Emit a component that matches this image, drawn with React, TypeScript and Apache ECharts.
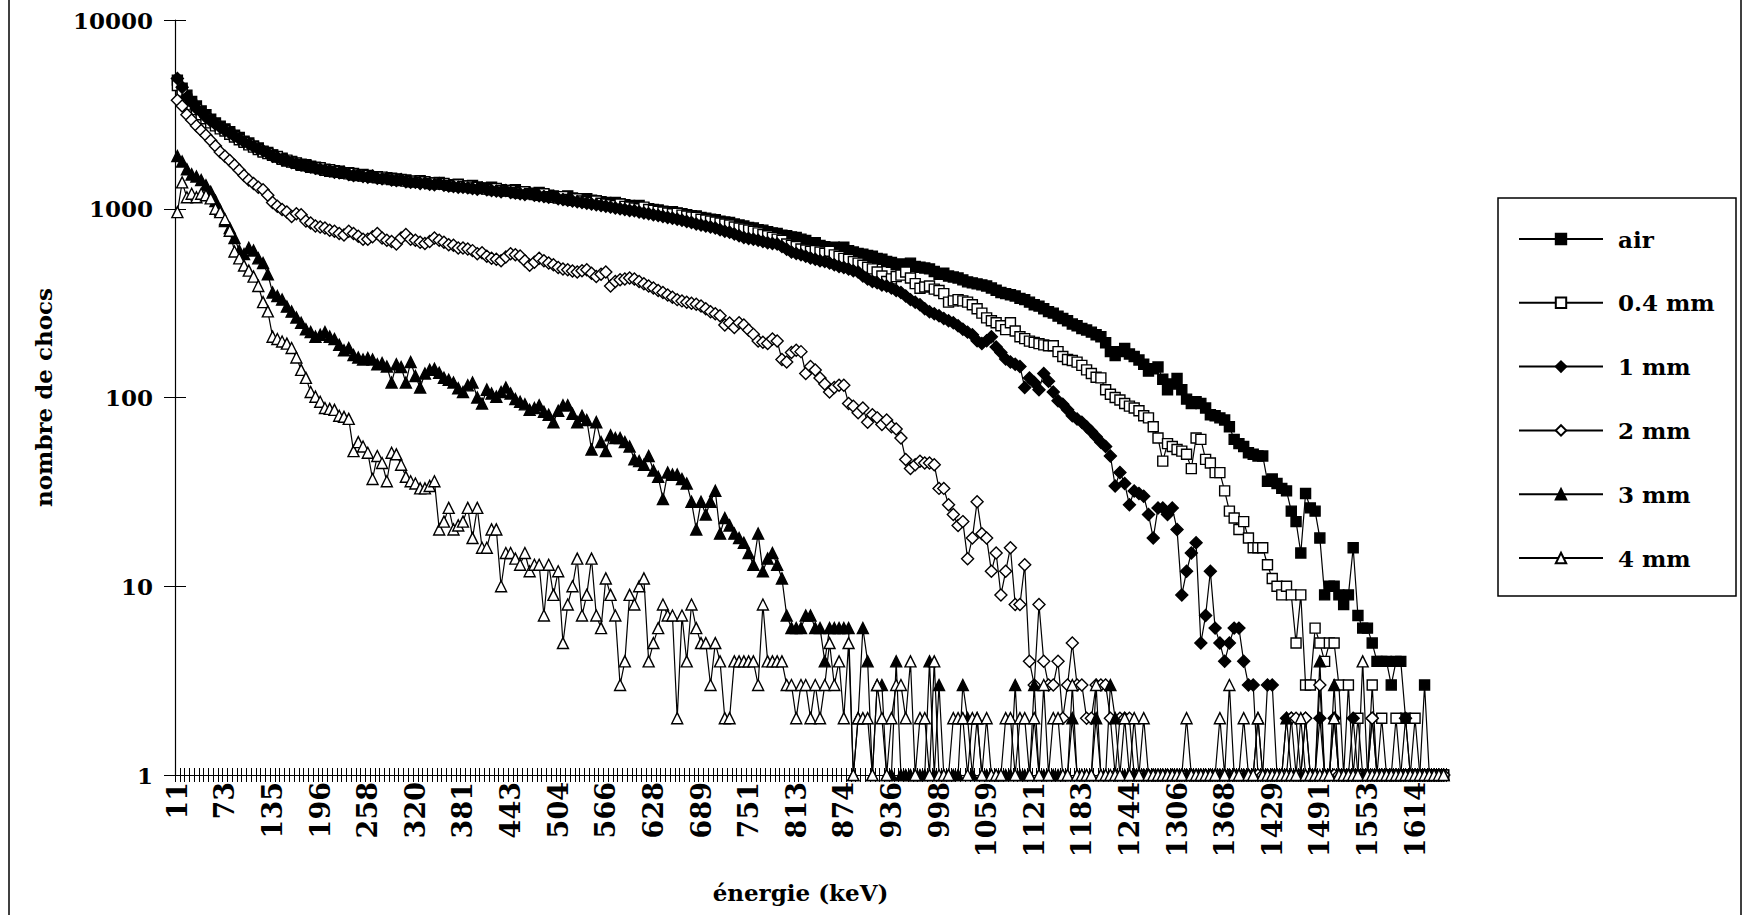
import React, { useEffect, useRef } from "react";
import * as echarts from "echarts";

// Energy calibration of the 267 channels (keV)
const ENERGY_START = 11.27;
const ENERGY_STEP = 6.165;
const N_CHANNELS = 267;
const CATEGORIES: string[] = Array.from({ length: N_CHANNELS }, (_, i) =>
  String(Math.round(ENERGY_START + ENERGY_STEP * i))
);

const AIR = [
  4800, 4350, 4000, 3700, 3500, 3300, 3150, 2980, 2850, 2740,
  2650, 2560, 2450, 2390, 2280, 2230, 2150, 2100, 2020, 1990,
  1930, 1880, 1850, 1790, 1780, 1740, 1700, 1710, 1660, 1650,
  1630, 1620, 1580, 1590, 1560, 1540, 1550, 1510, 1500, 1520,
  1490, 1470, 1480, 1450, 1460, 1430, 1440, 1410, 1420, 1400,
  1390, 1410, 1380, 1370, 1360, 1380, 1350, 1340, 1330, 1350,
  1320, 1310, 1330, 1300, 1290, 1280, 1300, 1270, 1260, 1250,
  1240, 1260, 1230, 1220, 1210, 1200, 1220, 1190, 1180, 1170,
  1160, 1150, 1170, 1140, 1130, 1120, 1130, 1110, 1100, 1090,
  1080, 1070, 1080, 1060, 1050, 1040, 1030, 1040, 1010, 1000,
  990, 985, 970, 960, 965, 950, 940, 930, 920, 915,
  900, 890, 880, 875, 860, 850, 845, 830, 820, 810,
  795, 790, 775, 770, 755, 745, 740, 725, 720, 710,
  705, 690, 680, 650, 660, 640, 630, 615, 625, 610,
  625, 600, 590, 580, 575, 565, 560, 545, 540, 525,
  520, 505, 510, 500, 515, 495, 490, 485, 480, 465,
  450, 455, 440, 435, 430, 420, 410, 405, 400, 395,
  390, 380, 370, 360, 355, 350, 345, 335, 330, 320,
  310, 305, 295, 285, 280, 270, 262, 255, 245, 240,
  232, 228, 222, 215, 210, 195, 175, 167, 175, 182,
  170, 165, 158, 150, 138, 142, 145, 125, 110, 118,
  126, 110, 98, 93, 95, 93, 88, 81, 80, 78,
  76, 70, 60, 57, 55, 51, 50, 49, 49, 36,
  37, 35, 33, 32, 25, 22, 15, 31, 26, 25,
  18, 9, 10, 10, 9, 8, 9, 16, 7, 6,
  6, 5, 4, 4, 4, 3, 4, 4, 2, 1,
  1, 1, 3, 1, 1, 1, 1,
];

const MM_04 = [
  4500, 4200, 3800, 3550, 3350, 3150, 3000, 2850, 2750, 2650,
  2580, 2480, 2400, 2320, 2250, 2180, 2120, 2060, 2000, 1960,
  1920, 1890, 1830, 1810, 1770, 1750, 1720, 1690, 1680, 1660,
  1650, 1600, 1610, 1570, 1580, 1550, 1530, 1540, 1510, 1490,
  1500, 1480, 1460, 1470, 1440, 1450, 1420, 1430, 1400, 1390,
  1400, 1380, 1390, 1360, 1370, 1350, 1360, 1330, 1320, 1340,
  1310, 1320, 1290, 1300, 1280, 1270, 1260, 1280, 1250, 1240,
  1250, 1220, 1210, 1230, 1200, 1190, 1180, 1200, 1160, 1150,
  1140, 1160, 1120, 1110, 1130, 1100, 1090, 1080, 1100, 1070,
  1060, 1050, 1040, 1060, 1030, 1020, 1010, 1000, 1020, 990,
  980, 970, 960, 950, 940, 945, 925, 915, 905, 900,
  880, 870, 860, 850, 840, 830, 820, 800, 790, 780,
  770, 760, 745, 730, 720, 705, 690, 680, 650, 640,
  630, 612, 605, 595, 600, 590, 580, 595, 570, 560,
  546, 540, 525, 515, 502, 490, 480, 462, 440, 412,
  425, 437, 445, 462, 430, 401, 379, 385, 390, 375,
  369, 355, 320, 325, 330, 325, 320, 310, 295, 280,
  264, 255, 249, 240, 229, 249, 225, 210, 205, 199,
  196, 193, 190, 188, 188, 175, 165, 159, 157, 154,
  148, 140, 134, 128, 127, 110, 104, 100, 97, 93,
  90, 88, 85, 80, 78, 70, 61, 46, 57, 55,
  53, 52, 50, 42, 61, 60, 47, 45, 40, 40,
  32, 25, 23, 20, 22, 18, 16, 16, 16, 13,
  11, 10, 9, 10, 9, 5, 9, 3, 3, 6,
  5, 4, 5, 5, 3, 1, 3, 1, 2, 1,
  1, 3, 1, 2, 1, 1, 2, 1, 1, 1,
  2, 1, 1, 1, 1, 1, 1,
];

const MM_1 = [
  4900, 4400, 3900, 3650, 3400, 3250, 3050, 2920, 2800, 2700,
  2600, 2520, 2420, 2350, 2260, 2200, 2130, 2070, 2030, 1960,
  1900, 1870, 1820, 1800, 1760, 1730, 1710, 1680, 1670, 1640,
  1620, 1600, 1590, 1560, 1550, 1560, 1520, 1500, 1510, 1480,
  1470, 1490, 1450, 1440, 1450, 1420, 1410, 1430, 1390, 1380,
  1380, 1360, 1370, 1350, 1340, 1360, 1330, 1320, 1310, 1300,
  1300, 1290, 1280, 1270, 1290, 1260, 1250, 1240, 1230, 1250,
  1220, 1210, 1200, 1190, 1210, 1180, 1170, 1160, 1150, 1160,
  1130, 1120, 1110, 1100, 1090, 1080, 1070, 1060, 1050, 1040,
  1030, 1020, 1010, 1000, 990, 980, 975, 960, 950, 940,
  930, 920, 910, 900, 890, 880, 870, 855, 845, 830,
  820, 810, 800, 790, 775, 760, 750, 735, 720, 705,
  695, 690, 680, 670, 660, 655, 650, 630, 610, 590,
  580, 570, 560, 548, 540, 530, 525, 516, 505, 495,
  488, 480, 470, 462, 440, 425, 412, 405, 395, 390,
  380, 369, 360, 345, 330, 320, 310, 295, 285, 278,
  271, 262, 255, 249, 240, 230, 222, 215, 200, 193,
  200, 210, 185, 173, 160, 154, 150, 146, 113, 127,
  120, 110, 134, 122, 107, 96, 92, 86, 80, 77,
  74, 70, 66, 62, 58, 55, 49, 34, 40, 35,
  27, 32, 31, 30, 24, 18, 26, 26, 24, 26,
  20, 9, 12, 15, 17, 5, 7, 12, 6, 5,
  4, 5, 6, 6, 4, 3, 3, 1, 1, 3,
  3, 1, 1, 2, 2, 1, 1, 2, 1, 1,
  2, 1, 1, 2, 1, 1, 1, 2, 1, 1,
  1, 2, 1, 1, 1, 1, 1, 1, 2, 1,
  1, 1, 1, 1, 1, 1, 1,
];

const MM_2 = [
  3760, 3500, 3150, 2950, 2750, 2600, 2450, 2300, 2150, 2000,
  1900, 1800, 1700, 1600, 1500, 1420, 1360, 1300, 1260, 1180,
  1080, 1030, 990, 960, 910, 940, 930, 860, 840, 810,
  800, 790, 770, 760, 740, 725, 760, 740, 715, 690,
  690, 710, 740, 700, 680, 670, 650, 700, 730, 690,
  680, 665, 655, 670, 700, 680, 665, 645, 640, 620,
  620, 612, 600, 578, 585, 560, 546, 540, 531, 555,
  578, 570, 562, 530, 502, 520, 546, 530, 516, 505,
  488, 480, 475, 468, 462, 470, 475, 455, 437, 450,
  462, 390, 412, 420, 424, 430, 424, 412, 400, 390,
  380, 369, 360, 349, 340, 330, 325, 320, 316, 312,
  305, 295, 285, 278, 271, 242, 248, 235, 249, 242,
  228, 216, 199, 196, 193, 204, 199, 159, 154, 173,
  178, 175, 134, 146, 140, 127, 118, 107, 113, 116,
  116, 93, 90, 83, 88, 74, 81, 78, 72, 76,
  70, 68, 61, 47, 42, 44, 46, 45, 45, 44,
  33, 33, 27, 24, 21, 22, 14, 18, 28, 19,
  18, 12, 15, 9, 12, 16, 8, 8, 13, 4,
  3, 8, 4, 3, 3, 4, 2, 3, 5, 3,
  3, 2, 2, 3, 3, 3, 2, 1, 2, 2,
  2, 1, 1, 1, 1, 1, 1, 1, 1, 1,
  1, 1, 1, 1, 1, 1, 1, 1, 1, 1,
  1, 1, 1, 1, 1, 1, 1, 1, 1, 1,
  1, 1, 1, 1, 2, 2, 1, 2, 1, 1,
  3, 1, 1, 1, 1, 1, 1, 1, 1, 1,
  1, 2, 1, 1, 1, 1, 1, 1, 1, 1,
  1, 1, 1, 1, 1, 1, 1,
];

const MM_3 = [
  1900, 1780, 1620, 1520, 1480, 1420, 1330, 1230, 1100, 980,
  860, 790, 700, 600, 575, 620, 600, 546, 516, 449,
  360, 345, 330, 303, 285, 265, 249, 230, 222, 210,
  215, 222, 210, 204, 190, 178, 183, 168, 163, 159,
  162, 159, 150, 152, 146, 120, 150, 145, 120, 154,
  130, 113, 134, 140, 142, 135, 127, 124, 120, 112,
  107, 116, 120, 100, 93, 110, 105, 101, 107, 113,
  105, 98, 95, 92, 86, 88, 91, 84, 81, 74,
  85, 91, 91, 82, 74, 80, 76, 53, 74, 58,
  52, 63, 61, 61, 58, 55, 47, 46, 44, 49,
  41, 38, 29, 40, 39, 39, 37, 35, 28, 20,
  28, 24, 28, 32, 19, 23, 21, 19, 18, 17,
  15, 13, 19, 12, 14, 15, 13, 11, 7, 6,
  6, 6, 7, 7, 6, 6, 4, 6, 6, 6,
  6, 6, 1, 2, 6, 4, 1, 3, 3, 1,
  1, 4, 1, 1, 1, 1, 1, 1, 4, 1,
  3, 1, 1, 1, 1, 3, 2, 1, 2, 1,
  1, 1, 1, 1, 1, 1, 3, 1, 1, 1,
  3, 1, 1, 1, 1, 1, 1, 1, 2, 1,
  1, 1, 1, 2, 1, 1, 3, 2, 1, 1,
  1, 1, 1, 1, 1, 1, 1, 1, 1, 1,
  1, 1, 1, 1, 1, 1, 1, 1, 1, 1,
  1, 1, 1, 1, 1, 1, 1, 2, 1, 1,
  1, 1, 1, 2, 1, 1, 1, 1, 1, 1,
  4, 1, 1, 3, 1, 1, 1, 1, 1, 1,
  1, 1, 1, 1, 1, 1, 1, 1, 1, 1,
  1, 1, 1, 1, 1, 1, 1,
];

const MM_4 = [
  960, 1380, 1150, 1200, 1150, 1200, 1180, 1135, 1000, 960,
  880, 765, 594, 546, 500, 470, 437, 390, 320, 286,
  210, 204, 198, 193, 183, 163, 140, 127, 107, 101,
  95, 88, 87, 86, 80, 79, 77, 52, 58, 55,
  51, 37, 49, 45, 36, 51, 50, 44, 38, 36,
  35, 33, 33, 34, 36, 20, 22, 26, 20, 21,
  22, 26, 18, 26, 16, 16, 20, 20, 10, 15,
  15, 14, 13, 15, 12, 13, 13, 7, 13, 9,
  12, 5, 8, 10, 14, 7, 9, 14, 7, 6,
  11, 9, 7, 3, 4, 9, 8, 10, 11, 4,
  5, 6, 8, 7, 7, 2, 7, 4, 8, 6,
  5, 5, 3, 5, 4, 2, 2, 4, 4, 4,
  4, 4, 3, 8, 4, 4, 4, 4, 3, 3,
  2, 3, 3, 2, 3, 2, 3, 5, 3, 4,
  2, 5, 1, 2, 2, 2, 1, 3, 2, 1,
  2, 3, 3, 2, 4, 1, 2, 2, 1, 4,
  1, 1, 1, 2, 2, 2, 1, 2, 2, 1,
  2, 1, 1, 1, 2, 2, 1, 2, 2, 1,
  2, 1, 3, 1, 2, 2, 1, 1, 3, 1,
  1, 1, 1, 3, 1, 1, 1, 1, 1, 2,
  1, 2, 1, 2, 1, 1, 1, 1, 1, 1,
  1, 1, 2, 1, 1, 1, 1, 1, 1, 2,
  1, 3, 1, 1, 2, 1, 1, 2, 1, 1,
  1, 1, 1, 1, 1, 1, 2, 1, 1, 1,
  1, 1, 1, 2, 1, 1, 1, 1, 1, 4,
  1, 1, 1, 1, 1, 1, 1, 1, 1, 1,
  1, 1, 1, 1, 1, 1, 1,
];

const SERIES_NAMES = ["air", "0.4 mm", "1 mm", "2 mm", "3 mm", "4 mm"];
const Y_TICKS = [1, 10, 100, 1000, 10000];

const FONT = "DejaVu Serif";

export default function App() {
  const ref = useRef<HTMLDivElement>(null);

  useEffect(() => {
    if (!ref.current) return;
    const chart = echarts.init(ref.current, undefined, { renderer: "svg" });

    const bold = { fontFamily: FONT, fontWeight: "bold" as const, color: "#000" };
    const xTickText = { ...bold, fontSize: 27 };
    const yTickText = { ...bold, fontSize: 23 };
    const titleText = { ...bold, fontSize: 23 };

    const mk = (name: string, data: number[], symbol: string, size: number, filled: boolean) => ({
      name,
      type: "line",
      data,
      xAxisIndex: 0,
      yAxisIndex: 0,
      symbol,
      symbolSize: size,
      showAllSymbol: true,
      lineStyle: { color: "#000", width: 1.2 },
      itemStyle: { color: filled ? "#000" : "#fff", borderColor: "#000", borderWidth: 1.4 },
      emphasis: { disabled: true },
      silent: true,
    });

    chart.setOption({
      animation: false,
      backgroundColor: "#fff",
      grid: { left: 175, top: 20, width: 1271, height: 755, containLabel: false },
      legend: {
        orient: "vertical",
        left: 1518,
        top: 227,
        padding: 0,
        itemWidth: 84,
        itemHeight: 13,
        itemGap: 39.8,
        selectedMode: false,
        data: SERIES_NAMES,
        textStyle: { ...titleText, lineHeight: 24, padding: [0, 0, 0, 10] },
      },
      xAxis: [
        {
          type: "category",
          data: CATEGORIES,
          boundaryGap: true,
          gridIndex: 0,
          axisLine: { show: true, lineStyle: { color: "#000", width: 1.2 } },
          axisTick: { show: true, interval: 0, length: 7, lineStyle: { color: "#000", width: 1 } },
          axisLabel: { ...xTickText, interval: 9, rotate: 90, margin: 7 },
          splitLine: { show: false },
          name: "énergie (keV)",
          nameLocation: "middle",
          nameGap: 106,
          nameTextStyle: { ...titleText, padding: [0, 20, 0, 0] },
        },
        {
          type: "category",
          data: CATEGORIES,
          boundaryGap: true,
          gridIndex: 0,
          position: "bottom",
          axisLine: { show: false },
          axisTick: { show: true, inside: true, interval: 0, length: 7, lineStyle: { color: "#000", width: 1 } },
          axisLabel: { show: false },
          splitLine: { show: false },
        },
      ],
      yAxis: [
        {
          type: "log",
          logBase: 10,
          min: Y_TICKS[0],
          max: Y_TICKS[Y_TICKS.length - 1],
          gridIndex: 0,
          axisLine: { show: true, lineStyle: { color: "#000", width: 1.2 } },
          axisTick: { show: true, length: 11, lineStyle: { color: "#000", width: 1 } },
          axisLabel: { ...yTickText, margin: 22, formatter: (v: number) => String(Math.round(v)) },
          splitLine: { show: false },
          name: "nombre de chocs",
          nameLocation: "middle",
          nameGap: 120,
          nameTextStyle: titleText,
        },
        {
          type: "log",
          logBase: 10,
          min: Y_TICKS[0],
          max: Y_TICKS[Y_TICKS.length - 1],
          gridIndex: 0,
          position: "left",
          axisLine: { show: false },
          axisTick: { show: true, inside: true, length: 11, lineStyle: { color: "#000", width: 1 } },
          axisLabel: { show: false },
          splitLine: { show: false },
        },
      ],
      graphic: [
        { type: "rect", shape: { x: 1498, y: 198, width: 238, height: 398 }, style: { fill: "none", stroke: "#000", lineWidth: 1.5 }, silent: true },
        { type: "line", shape: { x1: 9, y1: 0, x2: 9, y2: 915 }, style: { stroke: "#000", lineWidth: 1.5 }, silent: true },
        { type: "line", shape: { x1: 1741, y1: 0, x2: 1741, y2: 915 }, style: { stroke: "#000", lineWidth: 1.5 }, silent: true },
      ],
      series: [
        mk(SERIES_NAMES[0], AIR, "rect", 10, true),
        mk(SERIES_NAMES[1], MM_04, "rect", 10, false),
        mk(SERIES_NAMES[2], MM_1, "diamond", 12, true),
        mk(SERIES_NAMES[3], MM_2, "diamond", 12, false),
        mk(SERIES_NAMES[4], MM_3, "triangle", 11, true),
        mk(SERIES_NAMES[5], MM_4, "triangle", 11, false),
      ],
    });

    return () => chart.dispose();
  }, []);

  return (
    <div
      ref={ref}
      style={{ position: "absolute", left: 0, top: 0, width: 1744, height: 915, background: "#fff" }}
    />
  );
}
